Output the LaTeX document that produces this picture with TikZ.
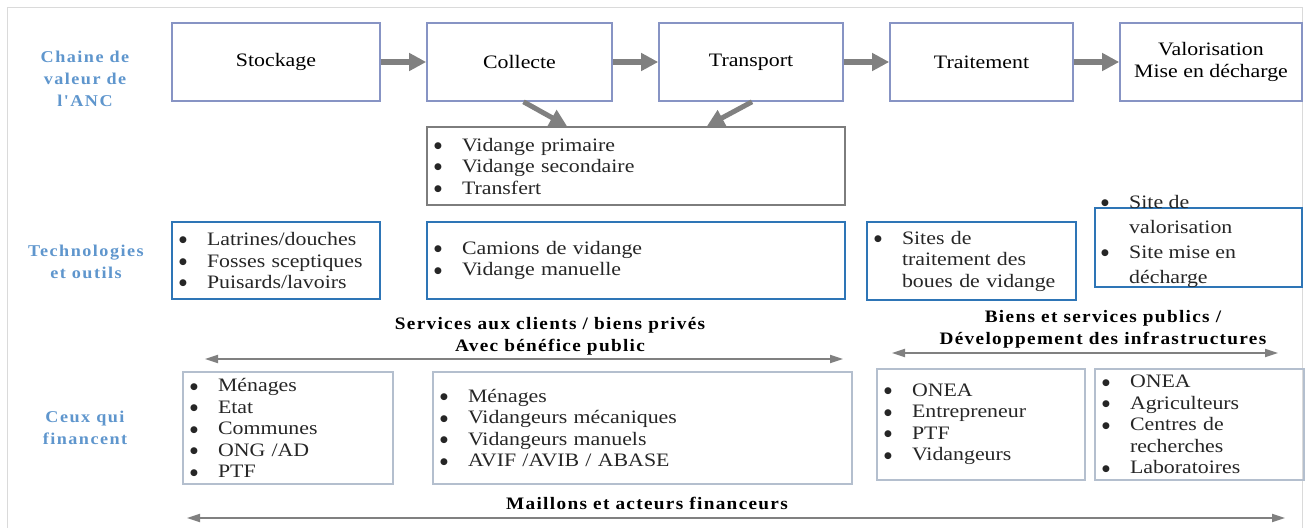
\documentclass[tikz,border=0pt]{standalone}
\usepackage{fontspec}
\setmainfont{Liberation Serif}[FakeStretch=1.15]
\newfontfamily\headfont{Liberation Serif}[FakeStretch=1.1,LetterSpace=7.5]
\newfontfamily\sidefont{Liberation Serif}[FakeStretch=1.1,LetterSpace=9]
\newfontfamily\dotfont{DejaVu Sans}
\usepackage{xcolor}
\usetikzlibrary{arrows.meta}

\definecolor{chainblue}{RGB}{135,148,196}
\definecolor{techblue}{RGB}{46,117,182}
\definecolor{fundgrey}{RGB}{180,191,206}
\definecolor{vidgrey}{RGB}{125,125,125}
\definecolor{labelblue}{RGB}{95,150,205}
\definecolor{arrowgrey}{RGB}{128,128,128}
\definecolor{framegrey}{RGB}{218,218,218}

\newcommand{\listfont}{\fontsize{19}{21.5}\selectfont}
\newcommand{\puce}{\makebox[28pt][l]{\raisebox{2.6pt}{\dotfont\fontsize{9}{9}\selectfont ●}}}
\newcommand{\suite}{\hspace*{28pt}}

\begin{document}
\begin{tikzpicture}[x=1pt,y=1pt,yscale=-1,
  chain/.style={draw=chainblue, line width=1.6pt, minimum width=#1, minimum height=78pt, align=center, inner sep=0pt, font=\listfont},
  cell/.style={align=left, inner xsep=7pt, inner ysep=0pt, font=\listfont, text=black!85},
  techbox/.style={cell, draw=techblue, line width=2.2pt},
  fundbox/.style={cell, draw=fundgrey, line width=1.5pt},
  flow/.style={draw=arrowgrey, line width=5pt, -{Triangle[length=17pt,width=17pt]}},
  span/.style={draw=arrowgrey, line width=1.8pt, {Triangle[length=13pt,width=8pt]}-{Triangle[length=13pt,width=8pt]}},
  headlbl/.style={align=center, inner sep=0pt, font=\headfont\bfseries\fontsize{17.5}{22}\selectfont},
  sidelbl/.style={align=center, inner sep=0pt, text=labelblue, font=\sidefont\bfseries\fontsize{16.5}{22}\selectfont}]
\useasboundingbox (0,0) rectangle (1305,527);

% Frame
\draw[framegrey, line width=1pt] (7,8) rectangle (1302,545);

% Side labels
\node[sidelbl] (lblchain) at (85,79) {Chaine de\\valeur de\\l'ANC};
\node[sidelbl] (lbltech) at (86,262) {Technologies\\et outils};
\node[sidelbl] (lblfund) at (85,428) {Ceux qui\\financent};

% Value chain
\node[chain=208pt] (stock) at (276,62) {Stockage};
\node[chain=185pt] (coll) at (519.5,62) {Collecte};
\node[chain=184pt] (trans) at (751,62) {Transport};
\node[chain=183pt] (trait) at (981.5,62) {Traitement};
\node[chain=182pt] (valo) at (1211,62) {Valorisation\\Mise en décharge};

\draw[flow] (stock) -- (coll);
\draw[flow] (coll) -- (trans);
\draw[flow] (trans) -- (trait);
\draw[flow] (trait) -- (valo);

% Emptying
\node[cell, draw=vidgrey, line width=2pt, minimum width=418pt, minimum height=78pt, text width=404pt] (vid) at (636,166)
  {\puce Vidange primaire\\\puce Vidange secondaire\\\puce Transfert};
\draw[flow] ([xshift=4pt]coll.south) -- ([xshift=-69pt]vid.north);
\draw[flow] ([xshift=1pt]trans.south) -- ([xshift=71pt]vid.north);

% Technologies
\node[techbox, minimum width=208pt, minimum height=77pt, text width=194pt] (techstock) at (276,260.5)
  {\puce Latrines/douches\\\puce Fosses sceptiques\\\puce Puisards/lavoirs};
\node[techbox, minimum width=418pt, minimum height=77pt, text width=404pt] (techcoll) at (636,260.5)
  {\puce Camions de vidange\\\puce Vidange manuelle};
\node[techbox, minimum width=209pt, minimum height=78pt, text width=195pt] (techtrait) at (971.5,261)
  {\puce Sites de\\\suite traitement des\\\suite boues de vidange};
\node[techbox, minimum width=207pt, minimum height=79pt] (techvalo) at (1198.5,247.5) {};
\node[cell, anchor=west, font=\fontsize{19}{25}\selectfont] (techvalotxt) at (1094,241)
  {\puce Site de\\\suite valorisation\\\puce Site mise en\\\suite décharge};

% Goods and services
\node[headlbl] (privlbl) at (550,336) {Services aux clients / biens privés\\Avec bénéfice public};
\node[headlbl] (publbl) at (1103,329) {Biens et services publics /\\Développement des infrastructures};
\coordinate (privL) at (205,359);
\coordinate (privR) at (843,359);
\coordinate (pubL) at (892,353);
\coordinate (pubR) at (1278,353);
\draw[span] (privL) -- (privR);
\draw[span] (pubL) -- (pubR);

% Funders
\node[fundbox, minimum width=210pt, minimum height=112pt, text width=196pt] (fundstock) at (288,428)
  {\puce Ménages\\\puce Etat\\\puce Communes\\\puce ONG /AD\\\puce PTF};
\node[fundbox, minimum width=419pt, minimum height=112pt, text width=405pt] (fundcoll) at (642.5,428)
  {\puce Ménages\\\puce Vidangeurs mécaniques\\\puce Vidangeurs manuels\\\puce AVIF /AVIB / ABASE};
\node[fundbox, minimum width=208pt, minimum height=111pt, text width=194pt] (fundtrait) at (981,424.5)
  {\puce ONEA\\\puce Entrepreneur\\\puce PTF\\\puce Vidangeurs};
\node[fundbox, minimum width=209pt, minimum height=111pt, text width=195pt] (fundvalo) at (1199.5,424.5)
  {\puce ONEA\\\puce Agriculteurs\\\puce Centres de\\\suite recherches\\\puce Laboratoires};

\node[headlbl] (finlbl) at (647,503) {Maillons et acteurs financeurs};
\coordinate (finL) at (187,518);
\coordinate (finR) at (1285,518);
\draw[span] (finL) -- (finR);

\end{tikzpicture}
\end{document}
